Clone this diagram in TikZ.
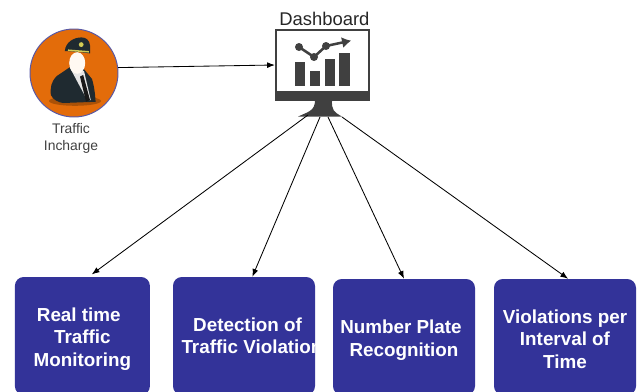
\documentclass[tikz,border=0pt]{standalone}
\usepackage{fontspec}
\usetikzlibrary{arrows.meta}
\setmainfont{Liberation Sans}
\definecolor{boxblue}{HTML}{333399}
\definecolor{iconGrey}{HTML}{404040}
\definecolor{badgeOrange}{HTML}{E36C0A}
\definecolor{suitDark}{HTML}{1F2A30}
\newcommand{\droplong}{\rule{0pt}{14pt}}
\newcommand{\dropshort}{\rule{0pt}{12.6pt}}
\tikzset{
  panel/.style={fill=boxblue, text=white, rounded corners=0.22cm, inner sep=0pt, align=center,
    font=\fontsize{13.4}{16}\selectfont\bfseries},
  link/.style={-{Latex[length=5.5pt,width=4.2pt]}, line width=0.6pt},
}
\begin{document}
\begin{tikzpicture}
\clip (0,0) rectangle (16,9.775);
% boxes
\node (monitoring) [panel, minimum width=3.375cm, minimum height=2.95cm] at (2.06,1.375) {\droplong\kern-0.09cm Real time\kern0.09cm\\Traffic\\Monitoring};
\node (violation) [panel, minimum width=3.55cm, minimum height=2.95cm] at (6.1,1.375) {\kern0.09cm Detection of\kern-0.09cm\\\kern0.2cm Traffic Violation\kern-0.2cm};
\node (plate) [panel, minimum width=3.55cm, minimum height=2.9cm] at (10.1,1.35) {\droplong\kern-0.075cm Number Plate\kern0.075cm\\Recognition};
\node (interval) [panel, minimum width=3.55cm, minimum height=2.9cm] at (14.125,1.35) {\dropshort Violations per\\Interval of\\Time};
% monitor
\node (monitor) [draw=iconGrey, line width=1.5pt, minimum width=2.325cm, minimum height=1.74cm, inner sep=0pt] at (8.06,8.15) {};
\node (dashboard) [font=\fontsize{13.1}{16}\selectfont, text=black!85, inner sep=0pt] at (8.11,9.3) {Dashboard};
\fill [iconGrey] (6.875,7.5) rectangle (9.25,7.26);
\fill [iconGrey] (7.875,7.28) .. controls (7.88,7.0) and (7.7,6.98) .. (7.45,6.86) -- (8.55,6.86) .. controls (8.35,6.98) and (8.29,7.0) .. (8.3,7.28) -- cycle;
\fill [iconGrey] (7.375,7.625) rectangle (7.625,8.225);
\fill [iconGrey] (7.75,7.625) rectangle (8,8);
\fill [iconGrey] (8.125,7.625) rectangle (8.375,8.3);
\fill [iconGrey] (8.475,7.625) rectangle (8.75,8.45);
\draw [iconGrey, line width=1.8pt, -{Latex[length=6.5pt,width=8pt]}] (7.475,8.6) -- (7.85,8.35) -- (8.15,8.625) -- (8.78,8.76);
\fill [iconGrey] (7.475,8.6) circle (0.1);
\fill [iconGrey] (7.85,8.35) circle (0.1);
\fill [iconGrey] (8.15,8.625) circle (0.1);
% traffic incharge
\node (actor) [circle, draw=blue!30!gray, fill=badgeOrange, line width=0.7pt, minimum size=2.2cm, inner sep=0pt] at (1.85,7.95) {};
\node (actorlabel) [font=\fontsize{9.9}{12}\selectfont, text=black!75, align=center, inner sep=0pt] at (1.775,6.31) {Traffic\\Incharge};
\fill [badgeOrange!75!black] (1.875,7.25) ellipse (0.65 and 0.12);
\fill [suitDark] (1.27,7.4) .. controls (1.26,7.6) and (1.27,7.72) .. (1.42,7.875) -- (1.77,8.11) -- (2.075,8.075) -- (2.3,7.8) .. controls (2.36,7.6) and (2.38,7.4) .. (2.39,7.23) -- (1.575,7.2) .. controls (1.45,7.22) and (1.33,7.28) .. (1.27,7.4) -- cycle;
\fill [white!90!black] (1.75,8.08) -- (2.1,8) -- (2.27,7.27) -- (2.18,7.27) -- cycle;
\fill [black!90] (2,7.86) -- (2.08,7.9) -- (2.25,7.275) -- (2.15,7.23) -- cycle;
\fill [white!95!orange] (1.93,8.2) ellipse (0.2 and 0.27);
\fill [suitDark] (1.62,8.5) .. controls (1.64,8.72) and (1.84,8.84) .. (2.04,8.84) .. controls (2.16,8.84) and (2.24,8.76) .. (2.25,8.64) -- (2.25,8.44) -- (1.93,8.48) -- cycle;
\draw [yellow!60!gray, line width=1.1pt] (1.7,8.52) -- (2.22,8.48);
\fill [yellow!60!gray] (2.03,8.66) circle (0.06);
% connectors
\coordinate (standa) at (7.7,6.9);
\coordinate (standb) at (8,6.85);
\coordinate (standc) at (8.2,6.85);
\coordinate (standd) at (8.55,6.85);
\draw [link] (actor.7) -- (monitor.west);
\draw [link, shorten >=2.8pt] (standa) -- (monitoring.84);
\draw [link] (standb) -- (violation.82);
\draw [link] (standc) -- (plate.north);
\draw [link] (standd) -- (interval.87);
\end{tikzpicture}
\end{document}
